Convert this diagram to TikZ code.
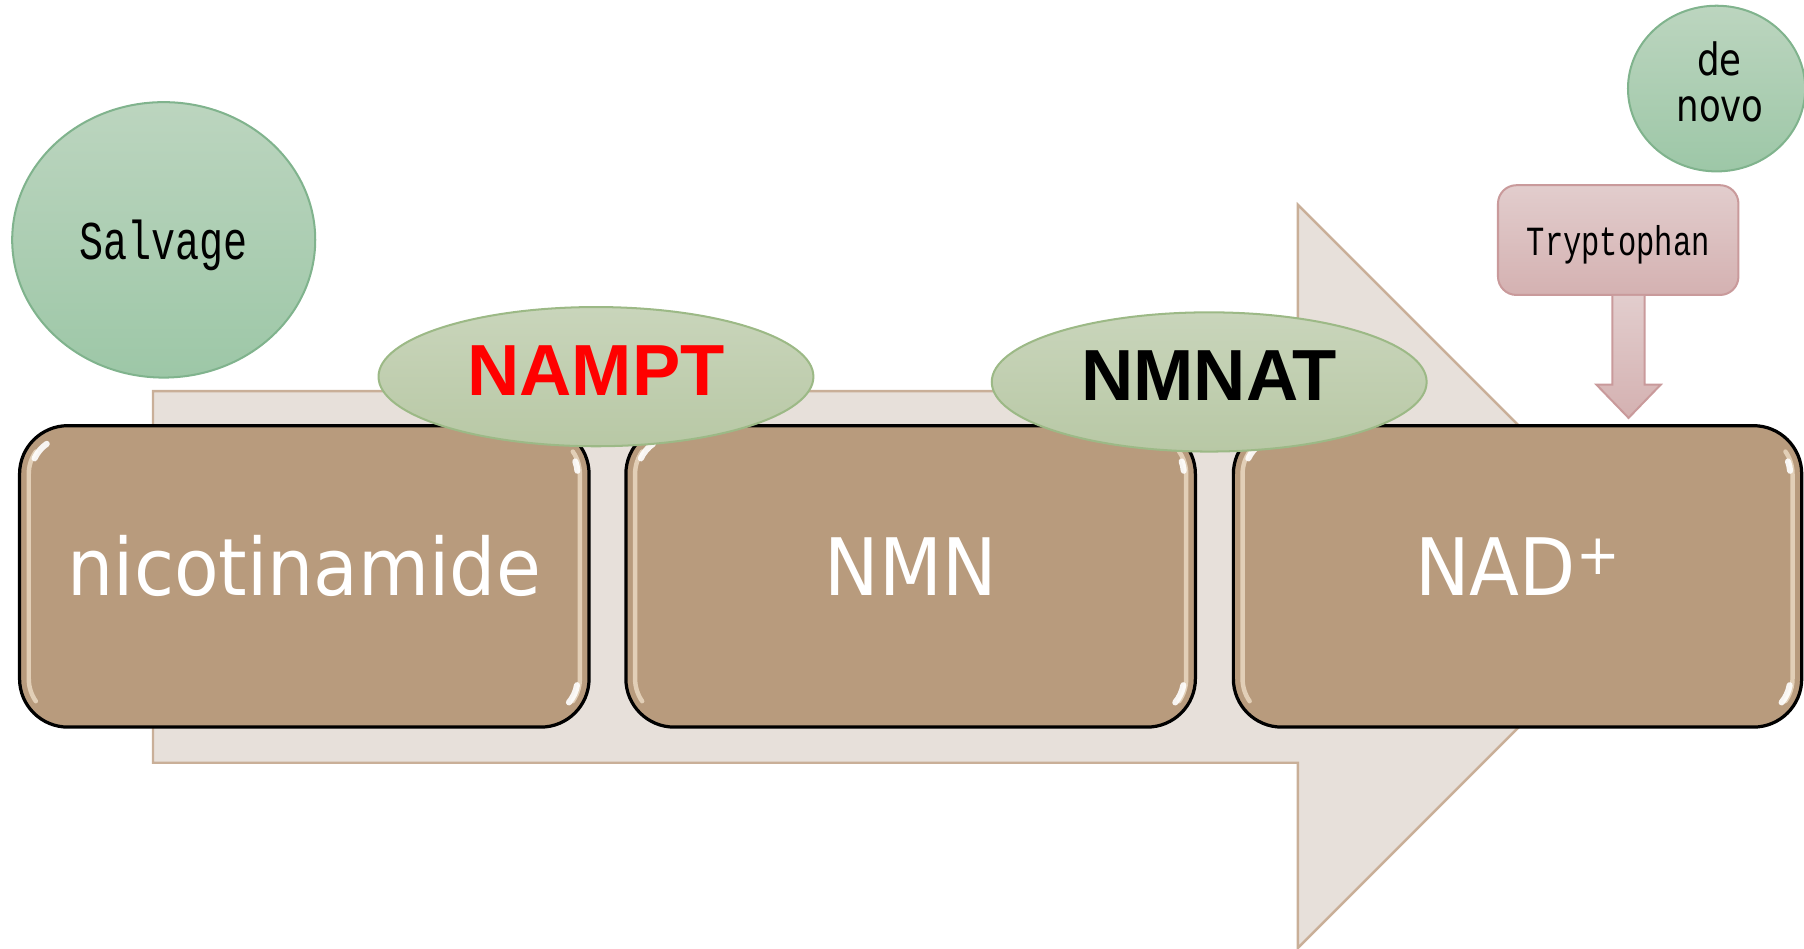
\documentclass[tikz,border=0pt]{standalone}
\usepackage{fontspec}
\usepackage{graphicx}
\usetikzlibrary{shapes.geometric,calc}
\newfontfamily\dvsans{DejaVu Sans}
\newfontfamily\libsans{Liberation Sans}
\newfontfamily\libmono{Liberation Mono}
\definecolor{arrowfill}{HTML}{E7E0DA}
\definecolor{arrowline}{HTML}{C9AF98}
\definecolor{boxfill}{HTML}{B89B7D}
\definecolor{hlcol}{HTML}{FFF3DE}
\definecolor{greentop}{HTML}{C9D5BB}
\definecolor{greenbot}{HTML}{B8C8A5}
\definecolor{greenline}{HTML}{9CB986}
\definecolor{saltop}{HTML}{BCD5BF}
\definecolor{salbot}{HTML}{9DC7A7}
\definecolor{salline}{HTML}{80B38D}
\definecolor{pinktop}{HTML}{E2CDCD}
\definecolor{pinkbot}{HTML}{D4B1B1}
\definecolor{pinkline}{HTML}{C99A9B}
\definecolor{nampred}{HTML}{FF0000}
\begin{document}
\begin{tikzpicture}[
  procbox/.style={draw=black, line width=0.8pt, fill=boxfill, rounded corners=0.42cm,
    minimum width=4.95cm, minimum height=2.62cm, inner sep=0pt, outer sep=0pt,
    text=white, font=\dvsans\fontsize{19.6pt}{23pt}\selectfont,
    text height=0.5cm, text depth=0.16cm},
  hl/.style={draw=hlcol, line width=1.1pt, opacity=0.6, line cap=round},
  hlc/.style={draw=white, line width=1.5pt, opacity=0.9, line cap=round},
  enzyme/.style={ellipse, draw=greenline, line width=0.5pt, top color=greentop,
    bottom color=greenbot, minimum width=3.78cm, minimum height=1.21cm, inner sep=0pt,
    font=\libsans\bfseries\fontsize{17.9pt}{20pt}\selectfont,
    text height=0.45cm, text depth=0.13cm},
  pathcircle/.style={ellipse, draw=salline, line width=0.5pt, top color=saltop,
    bottom color=salbot, inner sep=0pt},
  monotext/.style={font=\libmono\fontsize{13.5pt}{16pt}\selectfont},
  srctext/.style={font=\dvsans\fontsize{11pt}{12pt}\selectfont, inner sep=0pt},
  srcbox/.style={draw=pinkline, line width=0.5pt, top color=pinktop, bottom color=pinkbot,
    rounded corners=0.16cm, minimum width=2.09cm, minimum height=0.954cm, inner sep=0pt,
    font=\libmono\fontsize{10.25pt}{12pt}\selectfont, text height=0.30cm, text depth=0.04cm},
  downarrow/.style={draw=pinkline, line width=0.5pt, top color=pinktop, bottom color=pinkbot}
]
\useasboundingbox (0,0) rectangle (15.68,8.24);

% big background arrow
\path[fill=arrowfill, draw=arrowline, line width=0.6pt]
  (1.33,4.84) -- (11.28,4.84) -- (11.28,6.46) -- (14.51,3.23) -- (11.28,0)
  -- (11.28,1.61) -- (1.33,1.61) -- cycle;

% process boxes
\node[procbox] (nic) at (2.645,3.23) {\scalebox{0.92}[1]{nicotinamide}};
\node[procbox] (nmn) at (7.915,3.23) {\scalebox{0.92}[1]{NMN}};
\node[procbox, minimum width=4.94cm] (nad) at (13.19,3.23)
  {\scalebox{0.92}[1]{NAD\raisebox{0.19cm}{\fontsize{14pt}{14pt}\selectfont +}}};

\foreach \n in {nic,nmn,nad}{
  \draw[hl] ($(\n.north west)+(0.42,-0.42)+(145:0.34)$) arc[start angle=145,end angle=180,radius=0.34cm]
    -- ($(\n.south west)+(0.08,0.42)$) arc[start angle=180,end angle=215,radius=0.34cm];
  \draw[hl] ($(\n.north east)+(-0.42,-0.42)+(35:0.34)$) arc[start angle=35,end angle=0,radius=0.34cm]
    -- ($(\n.south east)+(-0.08,0.42)$) arc[start angle=0,end angle=-35,radius=0.34cm];
  \draw[hlc] ($(\n.north west)+(0.42,-0.42)+(125:0.32)$) arc[start angle=125,end angle=155,radius=0.32cm];
  \draw[hlc] ($(\n.south east)+(-0.42,0.42)+(-10:0.32)$) arc[start angle=-10,end angle=-40,radius=0.32cm];
  \draw[hlc] ($(\n.north east)+(-0.42,-0.42)+(20:0.32)$) arc[start angle=20,end angle=5,radius=0.32cm];
}

% enzymes
\node[enzyme, text=nampred] (nampt) at (5.18,4.966) {NAMPT};
\node[enzyme, text=black] (nmnat) at (10.51,4.92) {NMNAT};

% salvage
\node[pathcircle, minimum width=2.634cm, minimum height=2.394cm, monotext,
  text height=0.42cm, text depth=0.07cm] (salvage) at (1.423,6.155)
  {\scalebox{0.735}[1]{Salvage}};

% tryptophan and its arrow
\node[srcbox] (tryp) at (14.065,6.153) {\scalebox{0.735}[1]{Tryptophan}};
\coordinate (tA) at ($(tryp.south)+(0.09,0)$);
\path[downarrow] ($(tA)+(-0.14,0)$) -- ($(tA)+(-0.14,-0.77)$) -- ($(tA)+(-0.28,-0.77)$)
  -- ($(tA)+(0,-1.06)$) -- ($(tA)+(0.28,-0.77)$) -- ($(tA)+(0.14,-0.77)$) -- ($(tA)+(0.14,0)$);

% de novo
\node[pathcircle, minimum width=1.54cm, minimum height=1.44cm] (denovo) at (14.92,7.47) {};
\node[srctext, anchor=base] (de) at (14.945,7.58) {\scalebox{0.8}[1]{de}};
\node[srctext, anchor=base] (novo) at (14.95,7.18) {\scalebox{0.8}[1]{novo}};
\end{tikzpicture}
\end{document}
